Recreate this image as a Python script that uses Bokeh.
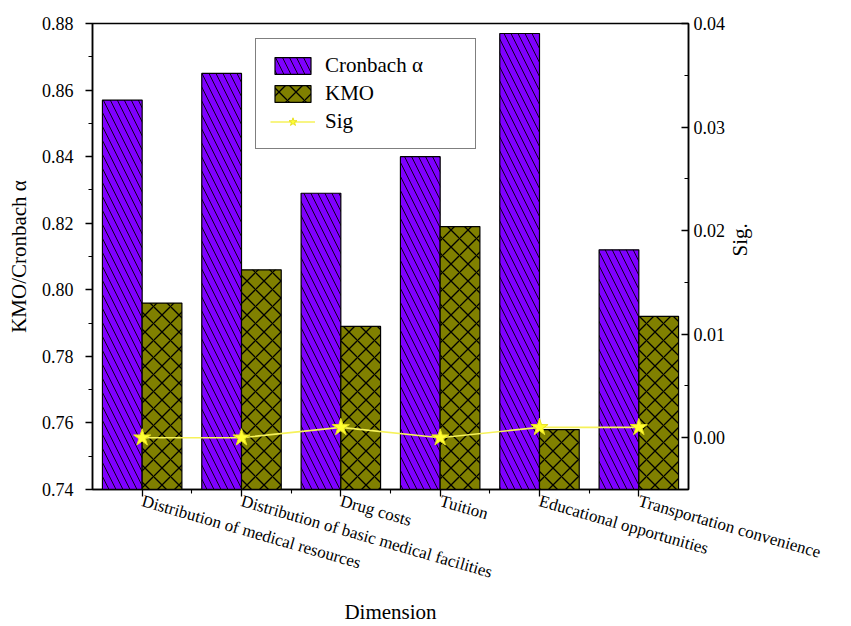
import math
import numpy as np
from bokeh.plotting import figure
from bokeh.models import (Range1d, LinearAxis, FixedTicker, PrintfTickFormatter,
                          Legend, LegendItem)
from bokeh.embed import file_html
from bokeh.resources import INLINE

# ---- data ----
categories = ["Distribution of medical resources",
              "Distribution of basic medical facilities",
              "Drug costs", "Tuition", "Educational opportunities",
              "Transportation convenience"]
cronbach = [0.857, 0.865, 0.829, 0.840, 0.877, 0.812]
kmo = [0.796, 0.806, 0.789, 0.819, 0.758, 0.792]
sig = [0.000, 0.000, 0.001, 0.000, 0.001, 0.001]
left_ticks = [0.74, 0.76, 0.78, 0.80, 0.82, 0.84, 0.86, 0.88]
right_ticks = [0.00, 0.01, 0.02, 0.03, 0.04]

FONT = "Liberation Serif"
PURPLE = "#7f00ff"
OLIVE = "#808000"

pos = np.arange(1, len(categories) + 1, dtype=float)
ymin, ymax = left_ticks[0], left_ticks[-1]

p = figure(width=851, height=626, output_backend="svg", toolbar_location=None,
           x_range=Range1d(0.5, len(categories) + 0.5),
           y_range=Range1d(ymin, ymax),
           min_border_left=92, min_border_right=163, min_border_top=23,
           min_border_bottom=136)
p.xgrid.visible = False
p.ygrid.visible = False
p.outline_line_color = "black"
p.outline_line_width = 1.5
p.background_fill_color = "white"
p.border_fill_color = "white"

# bars
b1 = p.vbar(x=pos - 0.2, top=cronbach, bottom=ymin, width=0.4,
            fill_color=PURPLE, line_color="black", line_width=1.2,
            hatch_pattern="\\", hatch_color="black", hatch_scale=14,
            hatch_weight=0.9)
b2 = p.vbar(x=pos + 0.2, top=kmo, bottom=ymin, width=0.4,
            fill_color=OLIVE, line_color="black", line_width=1.2,
            hatch_pattern="x", hatch_color="black", hatch_scale=17,
            hatch_weight=1.3)

# secondary axis for Sig
rt = np.array(right_ticks)
p.extra_y_ranges = {"sig": Range1d(-0.005, rt[-1])}
l1 = p.line(x=pos, y=sig, y_range_name="sig", line_color="#f6f25a", line_width=1.6)
s1 = p.scatter(x=pos, y=sig, y_range_name="sig", marker="star", size=18,
               fill_color="#ffff33", line_color="#e8e020", line_width=1)

# left axis
lt = np.array(left_ticks)
ya = p.yaxis[0]
ya.ticker = FixedTicker(ticks=left_ticks, minor_ticks=list((lt[:-1] + lt[1:]) / 2))
ya.formatter = PrintfTickFormatter(format="%.2f")
ya.axis_label = "KMO/Cronbach α"

# bottom axis
xa = p.xaxis[0]
xa.ticker = FixedTicker(ticks=list(pos), minor_ticks=list(pos[:-1] + 0.5))
xa.major_label_overrides = {int(i): c for i, c in zip(pos, categories)}
xa.major_label_orientation = -0.28
xa.axis_label = "Dimension"

# right axis
ra = LinearAxis(y_range_name="sig", axis_label="Sig.",
                ticker=FixedTicker(ticks=right_ticks,
                                   minor_ticks=list((rt[:-1] + rt[1:]) / 2)),
                formatter=PrintfTickFormatter(format="%.2f"))
p.add_layout(ra, "right")

for ax in (ya, xa, ra):
    ax.axis_line_color = "black"
    ax.axis_line_width = 1.5
    ax.major_tick_line_color = "black"
    ax.minor_tick_line_color = "black"
    ax.major_tick_line_width = 1.3
    ax.minor_tick_line_width = 1.1
    ax.major_tick_out = 7
    ax.major_tick_in = 0
    ax.minor_tick_out = 4
    ax.minor_tick_in = 0
    ax.major_label_text_font = FONT
    ax.major_label_text_font_size = "18px"
    ax.major_label_text_color = "black"
    ax.axis_label_text_font = FONT
    ax.axis_label_text_font_size = "21px"
    ax.axis_label_text_font_style = "normal"
    ax.axis_label_text_color = "black"

ra.major_tick_out = 0
ra.major_tick_in = 7
ra.minor_tick_out = 0
ra.minor_tick_in = 4
ra.major_label_standoff = 5
ra.axis_label_standoff = 12
try:
    ra.axis_label_orientation = math.pi / 2
except AttributeError:
    pass
ya.major_label_standoff = 12
ya.axis_label_standoff = 8
xa.major_label_text_font_size = "17px"
xa.major_label_standoff = 4
xa.axis_label_standoff = 6

legend = Legend(items=[LegendItem(label="Cronbach α", renderers=[b1]),
                       LegendItem(label="KMO", renderers=[b2]),
                       LegendItem(label="Sig", renderers=[l1, s1])],
                location=(163, 340))
legend.border_line_color = "black"
legend.border_line_width = 1.5
legend.background_fill_color = "white"
legend.background_fill_alpha = 1
legend.label_text_font = FONT
legend.label_text_font_size = "21px"
legend.label_text_color = "black"
legend.glyph_width = 45
legend.glyph_height = 21
legend.label_width = 136
legend.label_height = 24
legend.spacing = 3
legend.padding = 14
legend.margin = 0
legend.label_standoff = 10
p.add_layout(legend)

open("out.html", "w").write(file_html(p, INLINE))
